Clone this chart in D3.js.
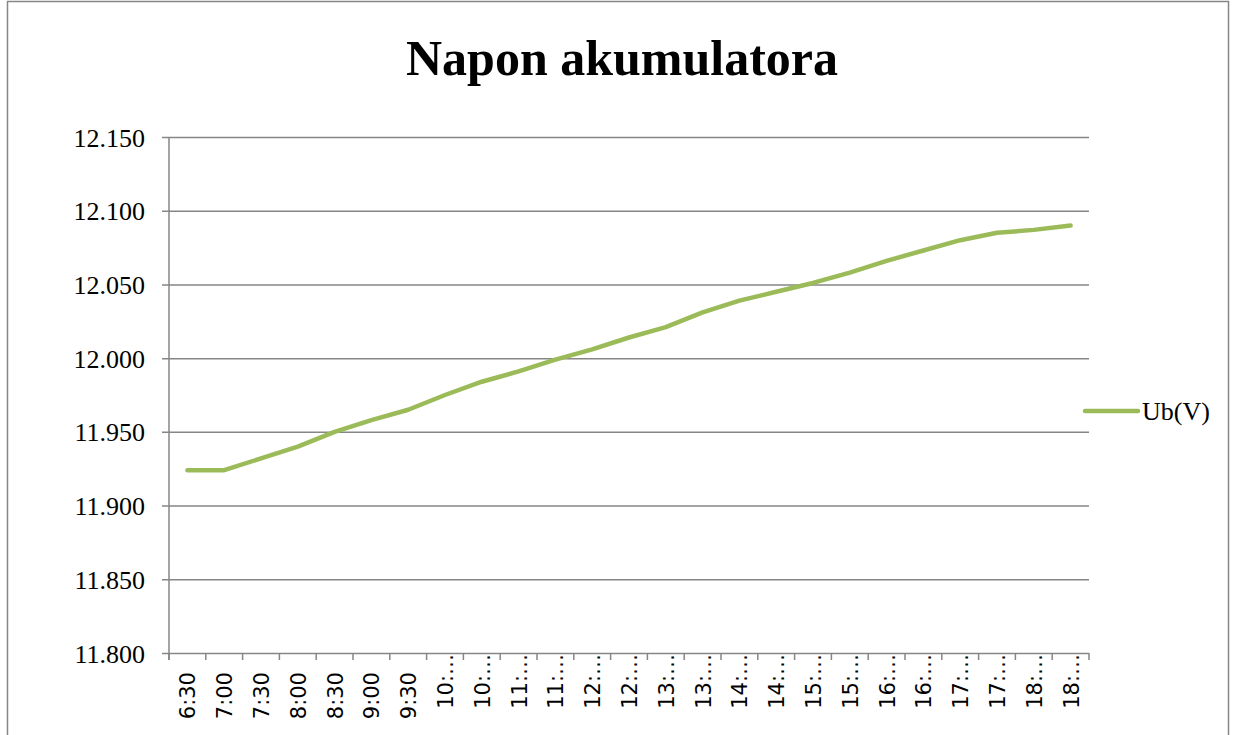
<!DOCTYPE html>
<html>
<head>
<meta charset="utf-8">
<script src="https://cdn.jsdelivr.net/npm/d3@7"></script>
<style>
  html, body { margin: 0; padding: 0; background: #fff; }
  svg { display: block; }
</style>
</head>
<body>
<svg id="chart" width="1236" height="735"></svg>
<script>
// Battery voltage readings, every half hour
const times = ["6:30", "7:00", "7:30", "8:00", "8:30", "9:00", "9:30",
  "10:…", "10:…", "11:…", "11:…", "12:…", "12:…", "13:…", "13:…",
  "14:…", "14:…", "15:…", "15:…", "16:…", "16:…", "17:…", "17:…", "18:…", "18:…"];
const voltage = [11.924, 11.924, 11.932, 11.940, 11.950, 11.958, 11.965,
  11.975, 11.984, 11.991, 11.999, 12.006, 12.014, 12.021, 12.031,
  12.039, 12.045, 12.051, 12.058, 12.066, 12.073, 12.080, 12.085, 12.087, 12.090];
const yTicks = [11.80, 11.85, 11.90, 11.95, 12.00, 12.05, 12.10, 12.15];
const seriesName = "Ub(V)";
const title = "Napon akumulatora";

const svg = d3.select("#chart");
const gridColor = "#868686";
const lineColor = "#9BBB59";

// outer chart frame
svg.append("rect")
  .attr("x", 7.5).attr("y", 1.5)
  .attr("width", 1221).attr("height", 800)
  .attr("fill", "none").attr("stroke", gridColor).attr("stroke-width", 1.5);

const plot = { left: 169, right: 1089, top: 137, bottom: 653 };

const x = d3.scaleBand()
  .domain(d3.range(times.length))
  .range([plot.left, plot.right]);

const y = d3.scaleLinear()
  .domain([11.80, 12.15])
  .range([plot.bottom, plot.top]);

// horizontal gridlines + y axis
const yAxis = d3.axisLeft(y)
  .tickValues(yTicks)
  .tickSize(-(plot.right - plot.left))
  .tickPadding(24)
  .tickFormat(d3.format(".3f"));

const gy = svg.append("g")
  .attr("transform", `translate(${plot.left},0)`)
  .call(yAxis);
gy.select(".domain").remove();
gy.selectAll(".tick line")
  .attr("x1", -7)
  .attr("stroke", gridColor).attr("stroke-width", 1.5);
gy.selectAll(".tick text")
  .attr("font-family", "'Liberation Serif', serif")
  .attr("font-size", 26)
  .attr("fill", "#000")
  .attr("dy", "0.35em");

// vertical value axis line
svg.append("line")
  .attr("x1", plot.left).attr("x2", plot.left)
  .attr("y1", plot.top).attr("y2", plot.bottom + 7)
  .attr("stroke", gridColor).attr("stroke-width", 1.5);

// category axis: ticks at band boundaries
const boundaries = d3.range(times.length + 1).map(i =>
  i < times.length ? x(i) : x(times.length - 1) + x.bandwidth());
svg.append("g").selectAll("line")
  .data(boundaries)
  .join("line")
  .attr("x1", d => d).attr("x2", d => d)
  .attr("y1", plot.bottom).attr("y2", plot.bottom + 7)
  .attr("stroke", gridColor).attr("stroke-width", 1.5);

// rotated category labels
svg.append("g").selectAll("text")
  .data(times)
  .join("text")
  .attr("transform", (d, i) => {
    const cx = x(i) + x.bandwidth() / 2;
    const top = d.endsWith("…") ? plot.bottom + 1 : plot.bottom + 19;
    return `translate(${cx + 8},${top}) rotate(-90)`;
  })
  .attr("text-anchor", "end")
  .attr("font-family", "'DejaVu Sans', sans-serif")
  .attr("font-size", 21)
  .attr("fill", "#000")
  .text(d => d);

// data line
const line = d3.line()
  .x((d, i) => x(i) + x.bandwidth() / 2)
  .y(d => y(d));

svg.append("path")
  .datum(voltage)
  .attr("d", line)
  .attr("fill", "none")
  .attr("stroke", lineColor)
  .attr("stroke-width", 4.5)
  .attr("stroke-linecap", "round")
  .attr("stroke-linejoin", "round");

// legend
svg.append("line")
  .attr("x1", 1085).attr("x2", 1138)
  .attr("y1", 411).attr("y2", 411)
  .attr("stroke", lineColor).attr("stroke-width", 4.5)
  .attr("stroke-linecap", "round");
svg.append("text")
  .attr("x", 1142).attr("y", 420)
  .attr("font-family", "'Liberation Serif', serif")
  .attr("font-size", 26)
  .attr("fill", "#000")
  .text(seriesName);

// title
svg.append("text")
  .attr("x", 622).attr("y", 75)
  .attr("text-anchor", "middle")
  .attr("font-family", "'Liberation Serif', serif")
  .attr("font-weight", "bold")
  .attr("font-size", 50)
  .attr("fill", "#000")
  .text(title);
</script>
</body>
</html>
